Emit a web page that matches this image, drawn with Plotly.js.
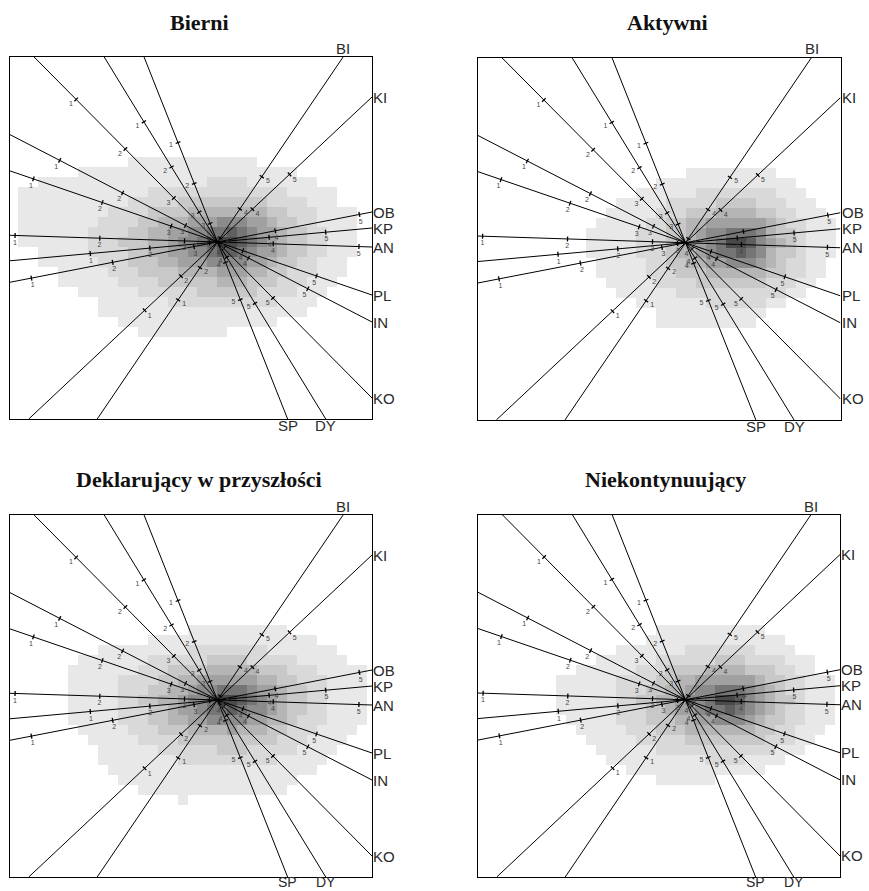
<!DOCTYPE html>
<html><head><meta charset="utf-8">
<script src="https://cdn.plot.ly/plotly-3.0.1.min.js"></script>
<style>html,body{margin:0;padding:0;background:#fff}#chart{width:869px;height:891px}</style>
</head><body><div id="chart"></div>
<script>
// ---------------- data ----------------
const panelTitles = ["Bierni", "Aktywni", "Deklarujący w przyszłości", "Niekontynuujący"];
const axisNames = ["BI", "KI", "OB", "KP", "AN", "PL", "IN", "KO", "SP", "DY"];
// direction of the positive ("5") end of each biplot axis
const axisDirX = [1.26, 1.55, 1.55, 1.55, 1.55, 1.55, 1.55, 1.55, 0.70, 1.08];
const axisDirY = [1.85, 1.45, 0.30, 0.14, -0.05, -0.53, -0.80, -1.56, -1.76, -1.76];
const tickLabels = ["1", "2", "3", "4", "5"];
// calibration positions (signed distance from the origin along each axis)
const ticksBI = [-0.70, -0.31, 0.05, 0.40, 0.79];
const ticksKI = [-1.00, -0.50, 0.00, 0.48, 0.99];
const ticksOB = [-1.90, -1.07, -0.24, 0.59, 1.45];
const ticksKP = [-1.28, -0.68, -0.08, 0.52, 1.09];
const ticksAN = [-2.03, -1.18, -0.33, 0.56, 1.42];
const ticksPL = [-1.95, -1.22, -0.49, 0.27, 1.05];
const ticksIN = [-1.78, -1.07, -0.36, 0.35, 1.02];
const ticksKO = [-2.01, -1.31, -0.62, 0.09, 0.79];
const ticksSP = [-1.07, -0.63, -0.20, 0.22, 0.62];
const ticksDY = [-1.41, -0.88, -0.35, 0.18, 0.72];
const axisTicks = [ticksBI, ticksKI, ticksOB, ticksKP, ticksAN, ticksPL, ticksIN, ticksKO, ticksSP, ticksDY];

// density shading levels (0 = none, 9 = darkest); rows top (y=0.8) to bottom (y=-1.0), columns x=-1.95..1.55
const densityBierni = [
"000000000001111111111111000000000000",
"000000111111111111111111111100000000",
"001111111111111111122221111111000000",
"111111111111122222222222222111110000",
"111111111112222233333333322221110000",
"111111111222233334444444433222111100",
"111111112222334445556665543322111100",
"111111122223344556677876554332211100",
"111111122233344566789987654332211100",
"001111122223344556678876554332211100",
"001111112223334455566665543322111000",
"000011111222333344445554433222111000",
"000011111122223333334443332221110000",
"000000111111222222333333222211100000",
"000000001111111222222222221111000000",
"000000001111111111111111111110000000",
"000000000011111111111111110000000000",
"000000000000111111111000000000000000",
"000000000000000000000000000000000000"];
const densityAktywni = [
"000000000000000000000000000000000000",
"000000000000000000001111111110000000",
"000000000000000001111111111111100000",
"000000000000000111111222222221110000",
"000000000000011111222223333222111000",
"000000000000111112223334444332211100",
"000000000001111122334455555543221110",
"000000000011111222334566777643321110",
"000000000011111222344567998654321110",
"000000000011111222344567787643321110",
"000000000001111122334455666543221100",
"000000000001111122233344444433221100",
"000000000000111112222333333322211000",
"000000000000011111122222222222110000",
"000000000000000111111122222211000000",
"000000000000000001111111111100000000",
"000000000000000001111111111000000000",
"000000000000000000000000000000000000",
"000000000000000000000000000000000000"];
const densityDeklarujacy = [
"000000000000000000000000000000000000",
"000000000000000001111111111000000000",
"000000000000011111111111111111000000",
"000000001111111112222222211111110000",
"000000111111122222233332222211111000",
"000001111111222333344444333222111110",
"000001111122223344555555443322211110",
"000001111122233445667776554332211110",
"000001111122334456679987654332211110",
"000001111122233455677876654332211110",
"000001111122233445566665544322211110",
"000000111112223334444544433222111100",
"000000011111222233333333332221111000",
"000000001111112222223332222211110000",
"000000001111111122222222221111100000",
"000000000111111111111111111111000000",
"000000000011111111111111111100000000",
"000000000000111111111111111000000000",
"000000000000000010000000000000000000"];
const densityNiekontynuujacy = [
"000000000000000000000000000000000000",
"000000000000000001111111111100000000",
"000000000000000011111111111111000000",
"000000000000011111112222222111100000",
"000000000001111112222223332222111000",
"000000000111111222333344443332211000",
"000000011111122223344555555433221110",
"000000011111122233445667776543221110",
"000000011111122334456679986543321110",
"000000011111122233455677876543221110",
"000000001111122233344556665433221110",
"000000000111112223334444444332211100",
"000000000011111222223333333322211000",
"000000000001111112222222222221110000",
"000000000000111111111122221111000000",
"000000000000001111111111111100000000",
"000000000000000001111110000000000000",
"000000000000000000000000000000000000",
"000000000000000000000000000000000000"];
const panelDensity = [densityBierni, densityAktywni, densityDeklarujacy, densityNiekontynuujacy];

// ---------------- drawing ----------------
const XR = [-2.08, 1.55], YR = [-1.77, 1.85];
const NCOL = 36, NROW = 19;
const gridX = Array.from({length: NCOL}, (_, i) => +(-1.95 + 0.1 * i).toFixed(3));
const gridY = Array.from({length: NROW}, (_, j) => +(0.8 - 0.1 * j).toFixed(3));
const grays = ['#ffffff','#e8e8e8','#d9d9d9','#c8c8c8','#b5b5b5','#a1a1a1','#8b8b8b','#757575','#5f5f5f','#4a4a4a'];
const colorscale = grays.map((c, i) => [i / 9, c]);

const xDomains = [[10/869, 372/869], [477.5/869, 840.5/869], [10/869, 372/869], [478/869, 840/869]];
const yDomains = [[1-419/891, 1-57/891], [1-420/891, 1-57.5/891], [1-877/891, 1-515/891], [1-877/891, 1-514.5/891]];
const titlePos = [[199, 22], [667, 22], [199, 479], [665, 479]];

const traces = [];
const annotations = [];
const layout = {
  width: 869, height: 891, margin: {l: 0, r: 0, t: 0, b: 0},
  paper_bgcolor: '#fff', plot_bgcolor: 'rgba(0,0,0,0)', showlegend: false,
  annotations: annotations
};

for (let p = 0; p < 4; p++) {
  const xa = p === 0 ? 'x' : 'x' + (p + 1);
  const ya = p === 0 ? 'y' : 'y' + (p + 1);
  const axCommon = {showgrid: false, zeroline: false, showticklabels: false, ticks: '',
    showline: true, mirror: true, linecolor: '#000', linewidth: 1, fixedrange: true};
  layout[p === 0 ? 'xaxis' : 'xaxis' + (p + 1)] = Object.assign({}, axCommon, {range: XR, domain: xDomains[p], anchor: ya});
  layout[p === 0 ? 'yaxis' : 'yaxis' + (p + 1)] = Object.assign({}, axCommon, {range: YR, domain: yDomains[p], anchor: xa});

  // density
  const rows = panelDensity[p];
  const z = [];
  for (let j = NROW - 1; j >= 0; j--) {
    const r = rows[j] || '';
    const a = [];
    for (let i = 0; i < NCOL; i++) {
      const v = i < r.length ? +r[i] : 0;
      a.push(v === 0 ? null : v);
    }
    z.push(a);
  }
  traces.push({type: 'heatmap', x: gridX, y: gridY.slice().reverse(), z: z, zmin: 0, zmax: 9,
    colorscale: colorscale, showscale: false, hoverinfo: 'skip', xaxis: xa, yaxis: ya});

  const lx = [], ly = [], tx = [], ty = [], labX = [], labY = [], labT = [];
  for (let k = 0; k < axisNames.length; k++) {
    const L = Math.hypot(axisDirX[k], axisDirY[k]);
    const ux = axisDirX[k] / L, uy = axisDirY[k] / L;
    const bx = ux > 0 ? [XR[0] / ux, XR[1] / ux] : [XR[1] / ux, XR[0] / ux];
    const by = uy > 0 ? [YR[0] / uy, YR[1] / uy] : [YR[1] / uy, YR[0] / uy];
    const tmin = Math.max(bx[0], by[0]), tmax = Math.min(bx[1], by[1]);
    lx.push(tmin * ux, tmax * ux, null); ly.push(tmin * uy, tmax * uy, null);
    // perpendicular
    let nx = -uy, ny = ux;
    let dx = nx, dy = ny;
    if (dy > 0) { dx = -nx; dy = -ny; }
    axisTicks[k].forEach((t, j) => {
      const px = t * ux, py = t * uy;
      tx.push(px - nx * 0.025, px + nx * 0.025, null); ty.push(py - ny * 0.025, py + ny * 0.025, null);
      labX.push(px + dx * 0.075); labY.push(py + dy * 0.075); labT.push(tickLabels[j]);
    });
    // axis name at the positive end
    const ex = tmax * ux, ey = tmax * uy;
    const ann = {xref: xa, yref: ya, x: ex, y: ey, text: axisNames[k], showarrow: false,
      font: {family: 'Liberation Sans, Arial, sans-serif', size: 15, color: '#2a2a2a'}};
    if (Math.abs(ex - XR[1]) < 1e-9) { ann.xanchor = 'left'; ann.yanchor = 'middle'; ann.xshift = -1; }
    else if (Math.abs(ey - YR[1]) < 1e-9) { ann.xanchor = 'center'; ann.yanchor = 'bottom'; ann.yshift = -2; }
    else { ann.xanchor = 'center'; ann.yanchor = 'top'; ann.yshift = 3; ann.borderpad = 0;
      if (p >= 2) { ann.font.size = 14; ann.yshift = 4; } }
    annotations.push(ann);
  }
  traces.push({type: 'scatter', mode: 'lines', x: lx, y: ly, line: {color: '#000', width: 1},
    hoverinfo: 'skip', xaxis: xa, yaxis: ya});
  traces.push({type: 'scatter', mode: 'lines', x: tx, y: ty, line: {color: '#000', width: 1.3},
    hoverinfo: 'skip', xaxis: xa, yaxis: ya});
  traces.push({type: 'scatter', mode: 'text', x: labX, y: labY, text: labT,
    textfont: {family: 'Liberation Sans, Arial, sans-serif', size: 7, color: '#444'},
    hoverinfo: 'skip', xaxis: xa, yaxis: ya});

  annotations.push({xref: 'paper', yref: 'paper', x: titlePos[p][0] / 869, y: 1 - titlePos[p][1] / 891,
    xanchor: 'center', yanchor: 'middle', showarrow: false, text: '<b>' + panelTitles[p] + '</b>',
    font: {family: 'Liberation Serif, Times New Roman, serif', size: 22, color: '#111'}});
}

Plotly.newPlot('chart', traces, layout, {displayModeBar: false, staticPlot: true});
</script>
</body></html>
